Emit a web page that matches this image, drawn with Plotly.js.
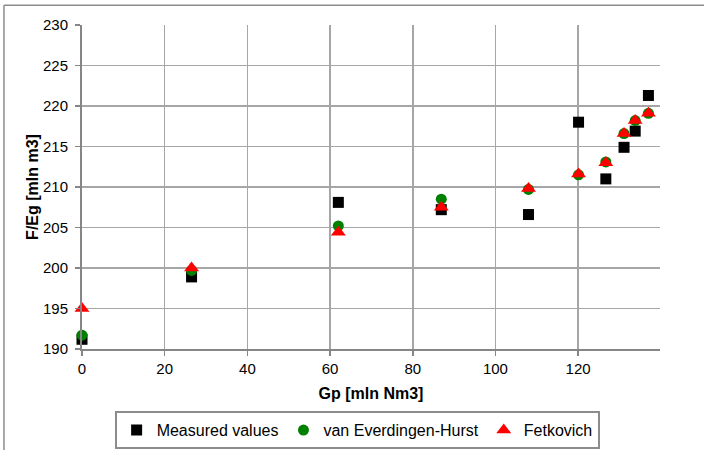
<!DOCTYPE html>
<html>
<head>
<meta charset="utf-8">
<script src="https://cdn.plot.ly/plotly-3.0.1.min.js"></script>
<style>
html,body{margin:0;padding:0;background:#fff;}
#chart{width:704px;height:450px;}
</style>
</head>
<body>
<div id="chart"></div>
<script>
// Data
const gp        = [0, 26.5, 62.0, 86.9, 108.0, 120.1, 126.7, 131.1, 133.8, 137.0];
const measured  = [191.2, 198.9, 208.1, 207.2, 206.6, 218.0, 211.0, 214.9, 216.9, 221.3];
const vanEH     = [191.7, 199.7, 205.2, 208.5, 209.7, 211.5, 213.1, 216.6, 218.2, 219.1];
const fetkovich = [195.0, 200.0, 204.4, 207.5, 209.8, 211.6, 213.0, 216.6, 218.2, 219.1];
const seriesNames = ["Measured values", "van Everdingen-Hurst", "Fetkovich"];
const xTitle = "Gp [mln Nm3]";
const yTitle = "F/Eg [mln m3]";

const FONT = "Liberation Sans, Arial, sans-serif";

const traces = [
  {x: gp, y: measured, name: seriesNames[0], type: "scatter", mode: "markers", cliponaxis: false,
   marker: {symbol: "square", size: 11, color: "#000000"}},
  {x: gp, y: vanEH, name: seriesNames[1], type: "scatter", mode: "markers", cliponaxis: false,
   marker: {symbol: "circle", size: 11, color: "#008000"}},
  {x: gp, y: fetkovich, name: seriesNames[2], type: "scatter", mode: "markers", cliponaxis: false,
   marker: {symbol: "triangle-up", size: 13, color: "#ff0000"}}
];

const layout = {
  width: 704, height: 450,
  margin: {l: 82, r: 44, t: 25, b: 101, autoexpand: false},
  paper_bgcolor: "#ffffff", plot_bgcolor: "#ffffff",
  font: {family: FONT, size: 15, color: "#000000"},
  showlegend: true,
  legend: {
    orientation: "h", x: 0.476, xanchor: "center", y: -0.192, yanchor: "top",
    bordercolor: "#8c8c8c", borderwidth: 2, bgcolor: "#ffffff",
    font: {family: FONT, size: 16, color: "#000000"}
  },
  xaxis: {
    range: [0, 139.8], tick0: 0, dtick: 20,
    showgrid: true, gridcolor: "#a6a6a6", gridwidth: 1.5,
    zeroline: false, showline: true, linecolor: "#868686", linewidth: 2,
    ticks: "outside", ticklen: 5, tickcolor: "#868686", tickwidth: 1.5,
    tickfont: {family: FONT, size: 15, color: "#000000"},
    title: {text: "<b>" + xTitle + "</b>", font: {family: FONT, size: 16, color: "#000000"}, standoff: 12}
  },
  yaxis: {
    range: [190, 230], tick0: 190, dtick: 5,
    showgrid: true, gridcolor: "#a6a6a6", gridwidth: 1.5,
    zeroline: false, showline: true, linecolor: "#868686", linewidth: 2,
    ticks: "outside", ticklen: 5, tickcolor: "#868686", tickwidth: 1.5,
    ticklabelstandoff: 4,
    tickfont: {family: FONT, size: 15, color: "#000000"},
    title: {text: "<b>" + yTitle + "</b>", font: {family: FONT, size: 16, color: "#000000"}, standoff: 0}
  },
  shapes: [
    {type: "line", xref: "paper", yref: "paper", x0: -0.135, x1: 1.1, y0: 1.0608, y1: 1.0608,
     line: {color: "#8c8c8c", width: 1.5}},
    {type: "line", xref: "paper", yref: "paper", x0: -0.135, x1: -0.135, y0: 1.0608, y1: -0.32,
     line: {color: "#8c8c8c", width: 1.5}}
  ]
};

Plotly.newPlot("chart", traces, layout, {displayModeBar: false, staticPlot: true});
</script>
</body>
</html>
